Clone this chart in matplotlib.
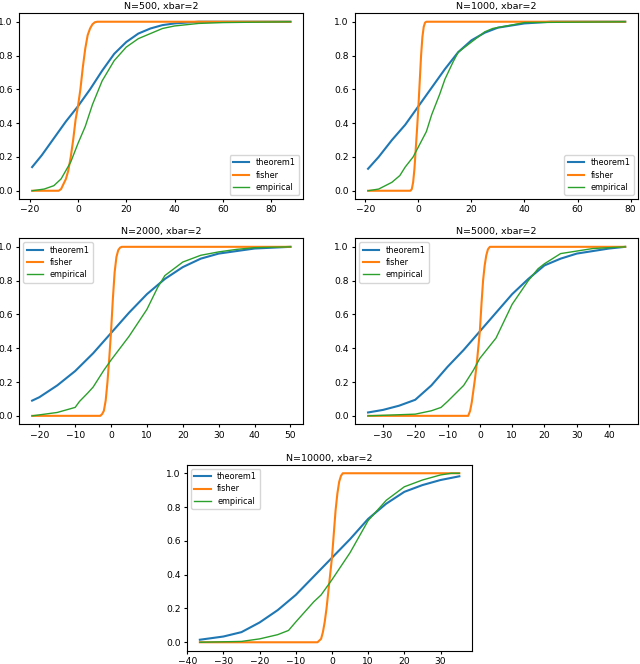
import numpy as np
import matplotlib.pyplot as plt

# values (x, cdf)
titles = ["N=500, xbar=2", "N=1000, xbar=2", "N=2000, xbar=2", "N=5000, xbar=2", "N=10000, xbar=2"]
legend_locs = ["lower right", "lower right", "upper left", "upper left", "upper left"]

# N=500
t1_x_500 = [-19, -15, -10, -5, 0, 5, 10, 15, 20, 25, 30, 35, 40, 50, 60, 88]
t1_y_500 = [0.14, 0.21, 0.31, 0.41, 0.50, 0.60, 0.71, 0.81, 0.88, 0.93, 0.96, 0.98, 0.99, 1.0, 1.0, 1.0]
fi_x_500 = [-19, -8, -7, -5, -4, -3, -2, -1, 0, 1, 2, 3, 4, 5, 6, 7, 8, 88]
fi_y_500 = [0.0, 0.0, 0.01, 0.07, 0.12, 0.2, 0.3, 0.42, 0.5, 0.6, 0.73, 0.84, 0.92, 0.96, 0.985, 0.997, 1.0, 1.0]
em_x_500 = [-19, -14, -10, -7, -5, -3, 0, 3, 6, 10, 15, 20, 25, 30, 35, 40, 50, 60, 88]
em_y_500 = [0.0, 0.01, 0.03, 0.07, 0.12, 0.17, 0.28, 0.38, 0.51, 0.65, 0.77, 0.85, 0.90, 0.93, 0.96, 0.975, 0.99, 0.995, 1.0]

# N=1000
t1_x_1000 = [-19, -15, -10, -5, 0, 5, 10, 15, 20, 25, 30, 40, 50, 78]
t1_y_1000 = [0.13, 0.20, 0.30, 0.39, 0.50, 0.61, 0.72, 0.82, 0.89, 0.935, 0.965, 0.99, 1.0, 1.0]
fi_x_1000 = [-19, -3, -2.5, -2, -1.5, -1, -0.5, 0, 0.5, 1, 1.5, 2, 2.5, 3, 78]
fi_y_1000 = [0.0, 0.0, 0.01, 0.05, 0.13, 0.25, 0.37, 0.5, 0.65, 0.8, 0.91, 0.97, 0.995, 1.0, 1.0]
em_x_1000 = [-19, -15, -10, -7, -5, -2, 0, 3, 5, 8, 10, 13, 15, 20, 25, 28, 35, 40, 78]
em_y_1000 = [0.0, 0.01, 0.05, 0.09, 0.14, 0.2, 0.26, 0.35, 0.45, 0.57, 0.66, 0.76, 0.82, 0.88, 0.94, 0.96, 0.98, 0.995, 1.0]

# N=2000
t1_x_2000 = [-22, -20, -15, -10, -5, 0, 5, 10, 15, 20, 25, 30, 40, 50]
t1_y_2000 = [0.09, 0.11, 0.18, 0.265, 0.37, 0.49, 0.61, 0.72, 0.81, 0.88, 0.93, 0.96, 0.99, 1.0]
fi_x_2000 = [-22, -3, -2.5, -2, -1.5, -1, -0.5, 0, 0.5, 1, 1.5, 2, 2.5, 3, 50]
fi_y_2000 = [0.0, 0.0, 0.01, 0.03, 0.09, 0.2, 0.34, 0.5, 0.69, 0.85, 0.94, 0.98, 0.995, 1.0, 1.0]
em_x_2000 = [-22, -15, -10, -8.8, -6.5, -5, -2, 0, 5, 10, 13, 15, 20, 25, 30, 35, 40, 50]
em_y_2000 = [0.0, 0.02, 0.05, 0.085, 0.135, 0.17, 0.27, 0.33, 0.47, 0.63, 0.76, 0.83, 0.91, 0.95, 0.97, 0.985, 0.995, 1.0]

# N=5000
t1_x_5000 = [-34.6, -30, -25, -20, -15, -10, -5, 0, 5, 10, 15, 20, 25, 30, 40, 45]
t1_y_5000 = [0.02, 0.035, 0.06, 0.095, 0.18, 0.29, 0.39, 0.50, 0.61, 0.72, 0.81, 0.89, 0.93, 0.96, 0.99, 1.0]
fi_x_5000 = [-34.6, -3.6, -3, -2.5, -2, -1.5, -1, -0.5, 0, 0.5, 1, 1.5, 2, 2.5, 3.1, 45]
fi_y_5000 = [0.0, 0.0, 0.03, 0.08, 0.15, 0.22, 0.3, 0.4, 0.5, 0.66, 0.8, 0.89, 0.95, 0.985, 1.0, 1.0]
em_x_5000 = [-34.6, -20, -15, -12, -10, -5, -2, 0, 5, 10, 15, 18, 20, 25, 30, 35, 40, 45]
em_y_5000 = [0.0, 0.01, 0.03, 0.05, 0.085, 0.18, 0.27, 0.34, 0.46, 0.66, 0.80, 0.87, 0.90, 0.96, 0.975, 0.99, 0.995, 1.0]

# N=10000
t1_x_10000 = [-36.5, -30, -25, -20, -15, -10, -5, 0, 5, 10, 15, 20, 25, 30, 35.2]
t1_y_10000 = [0.015, 0.034, 0.06, 0.117, 0.19, 0.28, 0.39, 0.50, 0.61, 0.73, 0.82, 0.89, 0.93, 0.96, 0.982]
fi_x_10000 = [-36.5, -4, -3, -2.5, -2, -1.5, -1, -0.5, 0, 0.5, 1, 1.5, 2, 2.5, 3, 35.2]
fi_y_10000 = [0.0, 0.0, 0.02, 0.06, 0.12, 0.2, 0.3, 0.4, 0.5, 0.64, 0.78, 0.88, 0.95, 0.985, 1.0, 1.0]
em_x_10000 = [-36.5, -25, -20, -15, -12, -10, -5, -3, 0, 5, 10, 15, 20, 25, 30, 33, 35.2]
em_y_10000 = [0.0, 0.005, 0.02, 0.045, 0.07, 0.12, 0.24, 0.28, 0.37, 0.53, 0.72, 0.84, 0.92, 0.96, 0.99, 1.0, 1.0]

series = [
    (t1_x_500, t1_y_500, fi_x_500, fi_y_500, em_x_500, em_y_500),
    (t1_x_1000, t1_y_1000, fi_x_1000, fi_y_1000, em_x_1000, em_y_1000),
    (t1_x_2000, t1_y_2000, fi_x_2000, fi_y_2000, em_x_2000, em_y_2000),
    (t1_x_5000, t1_y_5000, fi_x_5000, fi_y_5000, em_x_5000, em_y_5000),
    (t1_x_10000, t1_y_10000, fi_x_10000, fi_y_10000, em_x_10000, em_y_10000),
]

# axes boxes in figure fractions [left, bottom, width, height]
boxes = [
    [0.030, 0.700, 0.444, 0.280],
    [0.555, 0.700, 0.442, 0.280],
    [0.030, 0.361, 0.444, 0.280],
    [0.555, 0.361, 0.442, 0.280],
    [0.292, 0.020, 0.446, 0.280],
]

fig = plt.figure(figsize=(6.4, 6.64), dpi=100)

for i in range(5):
    ax = fig.add_axes(boxes[i])
    tx, ty, fx, fy, ex, ey = series[i]
    ax.plot(tx, ty, color='#1f77b4', lw=1.5, label='theorem1')
    ax.plot(fx, fy, color='#ff7f0e', lw=1.5, label='fisher')
    ax.plot(ex, ey, color='#2ca02c', lw=1.0, label='empirical')
    ax.set_yticks([0.0, 0.2, 0.4, 0.6, 0.8, 1.0])
    ax.tick_params(labelsize=6.6, length=2.5, pad=2)
    ax.set_title(titles[i], fontsize=6.8, pad=3)
    ax.legend(loc=legend_locs[i], fontsize=5.9, handlelength=2.0, borderpad=0.4, labelspacing=0.4)

plt.savefig("out.png", dpi=100)
